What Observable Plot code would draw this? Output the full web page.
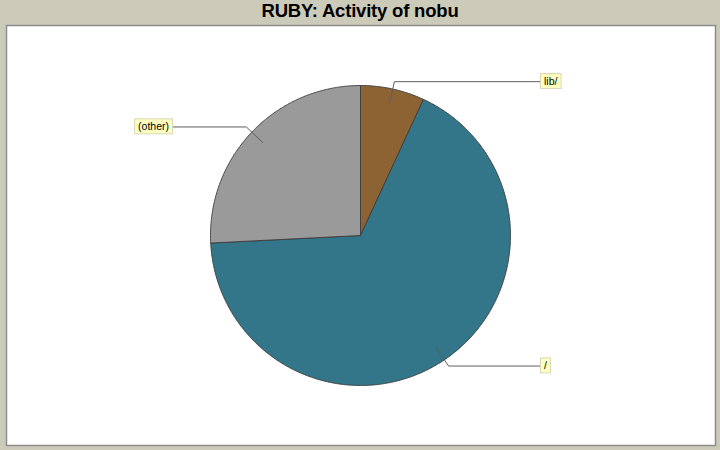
<!DOCTYPE html>
<html><head><meta charset="utf-8">
<script src="https://cdn.jsdelivr.net/npm/d3@7"></script>
<script src="https://cdn.jsdelivr.net/npm/@observablehq/plot@0.6"></script>
<style>
html,body{margin:0;padding:0;background:#cccbb9;width:720px;height:450px;overflow:hidden}
#title{height:24px;line-height:25px;text-align:center;font:bold 18.5px "Liberation Sans",Arial,sans-serif;color:#000;letter-spacing:-0.2px}
#chart svg{display:block}
</style></head><body>
<div id="title">RUBY: Activity of nobu</div>
<div id="chart"></div>
<script>
// ---- data ----
const categories = ["lib/", "/", "(other)"];
const values = [6.9, 67.3, 25.8];
const colors = ["#8e6334", "#337589", "#9a9a9a"];

// ---- layout ----
const W = 720, H = 426, mL = 6, mR = 5, mT = 1, mB = 5;
const R = 150, cx = 360, cy = 211;           // pie centre & radius in px
const xDomain = [(mL - cx) / R, (W - mR - cx) / R];
const yDomain = [-(H - mB - cy) / R, (cy - mT) / R];
const labelXRight = 1.2, labelXLeft = -1.253;

const total = d3.sum(values);
let acc = 0;
const slices = categories.map((c, i) => {
  const a0 = acc / total * 2 * Math.PI; acc += values[i];
  const a1 = acc / total * 2 * Math.PI;
  return {c, a0, a1, mid: (a0 + a1) / 2, color: colors[i]};
});
function slicePts(s) {
  const p = [{x: 0, y: 0}];
  const n = Math.max(2, Math.ceil((s.a1 - s.a0) / 0.01));
  for (let k = 0; k <= n; k++) {
    const a = s.a0 + (s.a1 - s.a0) * k / n;
    p.push({x: Math.sin(a), y: Math.cos(a)});
  }
  p.push({x: 0, y: 0});
  return p;
}
const leaders = [];
const labels = [];
for (const s of slices) {
  const sx = Math.sin(s.mid), sy = Math.cos(s.mid);
  const right = sx >= 0;
  const ey = 1.05 * sy;
  const lx = right ? labelXRight : labelXLeft;
  leaders.push({c: s.c, x: 0.9 * sx, y: 0.9 * sy});
  leaders.push({c: s.c, x: 1.05 * sx, y: ey});
  leaders.push({c: s.c, x: lx, y: ey});
  labels.push({c: s.c, x: lx, y: ey, right});
}

const plot = Plot.plot({
  width: W, height: H,
  marginLeft: mL, marginRight: mR, marginTop: mT, marginBottom: mB,
  x: {domain: xDomain, axis: null},
  y: {domain: yDomain, axis: null},
  style: {background: "transparent"},
  marks: [
    Plot.frame({fill: "white", stroke: "#8c8c8c", strokeWidth: 1.5}),
    ...slices.map(s => Plot.line(slicePts(s), {x: "x", y: "y", fill: s.color, stroke: "#3c3c3c", strokeWidth: 0.9, strokeLinejoin: "round"})),
    Plot.line(leaders, {x: "x", y: "y", z: "c", stroke: "#5e5e5e", strokeWidth: 1}),
    Plot.text(labels.filter(d => d.right), {x: "x", y: "y", text: "c", textAnchor: "start", dx: 3.5, fontSize: 10.5, fontFamily: "Liberation Sans, Arial, sans-serif", fill: "#000"}),
    Plot.text(labels.filter(d => !d.right), {x: "x", y: "y", text: "c", textAnchor: "end", dx: -3.5, fontSize: 10.5, fontFamily: "Liberation Sans, Arial, sans-serif", fill: "#000"})
  ]
});
document.getElementById("chart").append(plot);

// label boxes behind the text
plot.querySelectorAll("text").forEach(t => {
  const b = t.getBBox();
  const r = document.createElementNS("http://www.w3.org/2000/svg", "rect");
  r.setAttribute("x", b.x - 3.5);
  r.setAttribute("y", b.y - 1.5);
  r.setAttribute("width", b.width + 7);
  r.setAttribute("height", b.height + 3);
  r.setAttribute("fill", "#ffffc0");
  r.setAttribute("stroke", "#d8d8b8");
  r.setAttribute("stroke-width", 1);
  const tr = t.getAttribute("transform");
  if (tr) r.setAttribute("transform", tr);
  t.parentNode.insertBefore(r, t);
});
</script>
</body></html>
